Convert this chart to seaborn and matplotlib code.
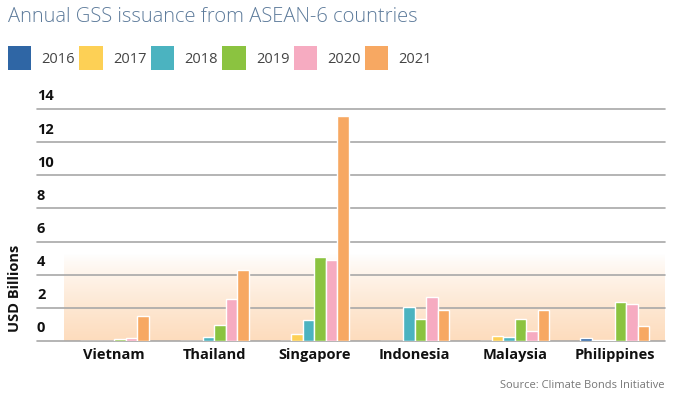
import numpy as np
import pandas as pd
import matplotlib
matplotlib.use("Agg")
import matplotlib.pyplot as plt
import matplotlib.transforms as mtransforms
from matplotlib.patches import Patch
from matplotlib.colors import LinearSegmentedColormap
import seaborn as sns

# Data (USD billions)
countries = ["Vietnam", "Thailand", "Singapore", "Indonesia", "Malaysia", "Philippines"]
years = ["2016", "2017", "2018", "2019", "2020", "2021"]
y2016 = [0.00, 0.00, 0.00, 0.00, 0.00, 0.18]
y2017 = [0.00, 0.00, 0.42, 0.00, 0.30, 0.06]
y2018 = [0.00, 0.24, 1.26, 2.05, 0.24, 0.08]
y2019 = [0.14, 0.96, 5.08, 1.34, 1.34, 2.37]
y2020 = [0.20, 2.53, 4.88, 2.65, 0.60, 2.25]
y2021 = [1.50, 4.28, 13.55, 1.89, 1.89, 0.90]
colors = ["#2f66a5", "#fdd055", "#4bb3c0", "#8bc340", "#f6abc1", "#f7a862"]

rows = []
for yr, vals in zip(years, [y2016, y2017, y2018, y2019, y2020, y2021]):
    for c, v in zip(countries, vals):
        rows.append({"country": c, "year": yr, "value": v})
df = pd.DataFrame(rows)

sns.set_theme(style="white")
plt.rcParams["font.family"] = ["Open Sans", "DejaVu Sans"]

fig = plt.figure(figsize=(6.91, 3.96), dpi=100)
ax = fig.add_axes([64 / 691, 1 - 341 / 396, 601 / 691, 232 / 396])

sns.barplot(data=df, x="country", y="value", hue="year", palette=colors,
            width=0.69, saturation=1, legend=False, ax=ax, zorder=3)

ax.set_xlim(-0.5, 5.5)
ax.set_ylim(0, 14)

# soft orange gradient behind the lower part of the plot (orange at bottom)
grad = np.linspace(1, 0, 200).reshape(-1, 1) ** 0.8
cmap = LinearSegmentedColormap.from_list("fade", ["#ffffff", "#fddcbd"])
ax.imshow(grad, extent=(-0.5, 5.5, 0, 5.2), aspect="auto", cmap=cmap,
          origin="lower", zorder=0)

# gridlines reach further left than the plot area
for v in range(0, 16, 2):
    ax.axhline(v, xmin=-27 / 601, xmax=1, color="#a8a8a8", lw=1.2,
               clip_on=False, zorder=2)

for s in ax.spines.values():
    s.set_visible(False)

ax.set_yticks(range(0, 16, 2))
ax.tick_params(axis="y", length=0, pad=27 * 72 / 100)
ax.tick_params(axis="x", length=0, pad=5)
shift = mtransforms.ScaledTranslation(0, 14 / 100, fig.dpi_scale_trans)
for lab in ax.get_yticklabels():
    lab.set_horizontalalignment("left")
    lab.set_fontweight("bold")
    lab.set_fontsize(10.5)
    lab.set_color("#111111")
    lab.set_transform(lab.get_transform() + shift)
for lab in ax.get_xticklabels():
    lab.set_fontweight("bold")
    lab.set_fontsize(10.5)
    lab.set_color("#111111")
ax.set_xlabel("")
ax.set_ylabel("")

fig.text(15 / 691, 1 - 288 / 396, "USD Billions", rotation=90, ha="center",
         va="center", fontsize=10.5, fontweight="bold", color="#111111")

fig.text(8 / 691, 1 - 17 / 396, "Annual GSS issuance from ASEAN-6 countries",
         ha="left", va="center", fontsize=14.5, color="#5d7b9b", fontweight="light")

handles = [Patch(facecolor=c, edgecolor="none") for c in colors]
fig.legend(handles, years, loc="center left", bbox_to_anchor=(8 / 691, 1 - 58 / 396),
           ncol=6, frameon=False, fontsize=10.5, handlelength=1.6, handleheight=2.08,
           handletextpad=0.7, columnspacing=0.3, borderaxespad=0, borderpad=0,
           labelcolor="#444444")

fig.text(665 / 691, 1 - 385 / 396, "Source: Climate Bonds Initiative",
         ha="right", va="center", fontsize=8, color="#777777")

fig.savefig("out.png", dpi=100)
